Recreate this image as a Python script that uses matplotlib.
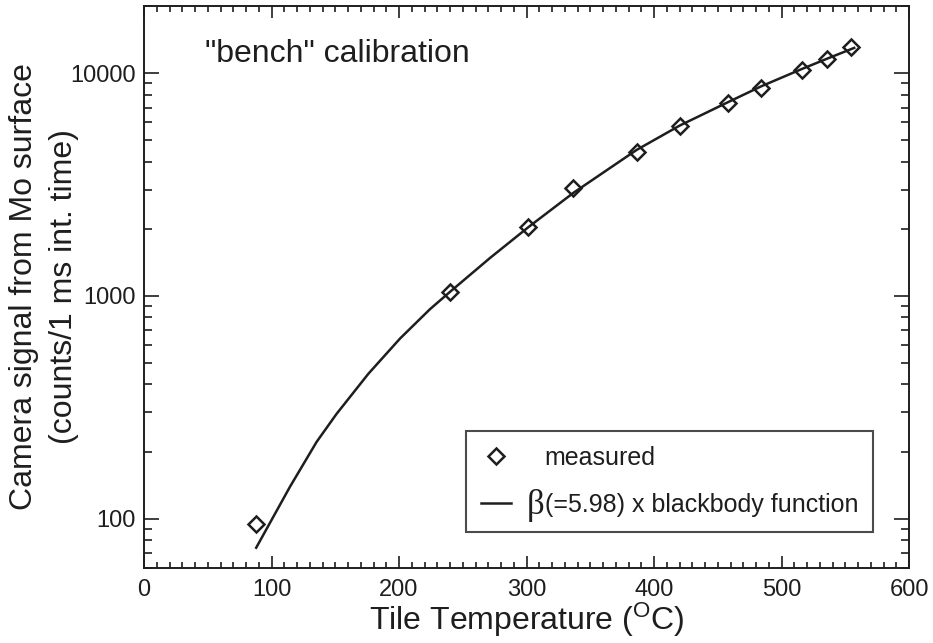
import matplotlib
matplotlib.use("Agg")
import matplotlib.pyplot as plt
from matplotlib.ticker import LogLocator, FuncFormatter, NullFormatter, MultipleLocator
from matplotlib.lines import Line2D

plt.rcParams['font.family'] = ['Liberation Sans', 'DejaVu Sans']
plt.rcParams['mathtext.fontset'] = 'custom'
plt.rcParams['mathtext.rm'] = 'Liberation Sans'
plt.rcParams['mathtext.it'] = 'Liberation Sans:italic'
plt.rcParams['mathtext.bf'] = 'Liberation Sans:bold'

INK = '#1e1e1e'

# measured points (tile temperature in C, camera counts)
temp_meas = [87.8, 240.0, 301.4, 336.7, 386.4, 420.4, 458.3, 483.9, 515.8, 535.9, 554.5]
signal_meas = [95, 1042, 2042, 3035, 4435, 5780, 7310, 8595, 10330, 11570, 13060]

# fitted curve (beta x blackbody)
temp_fit = [88, 114.5, 135.4, 151, 176, 200.8, 224.3, 240, 271.4, 301.4, 336.7,
            386.4, 420.4, 458.3, 483.9, 515.8, 535.9, 557]
signal_fit = [74, 139, 221, 295, 447, 643, 871, 1042, 1479, 2032, 2897,
              4519, 5821, 7413, 8710, 10420, 11610, 12970]

ylabel_lines = ['Camera signal from Mo surface', '(counts/1 ms int. time)']
legend_labels = ['measured', '(=5.98) x blackbody function']

fig = plt.figure(figsize=(9.33, 6.43), dpi=100)
ax = fig.add_axes([144/933, (643-568)/643, 765/933, 562/643])

ax.plot(temp_fit, signal_fit, color=INK, lw=1.8, zorder=2)
ax.plot(temp_meas, signal_meas, linestyle='none', marker='D', ms=8.5,
        mfc='none', mec=INK, mew=1.8, zorder=3)

ax.set_yscale('log')
ax.set_xlim(0, 600)
ax.set_ylim(60, 20000)

ax.xaxis.set_major_locator(MultipleLocator(100))
ax.xaxis.set_minor_locator(MultipleLocator(10))
ax.yaxis.set_major_locator(LogLocator(base=10, numticks=10))
ax.yaxis.set_minor_locator(LogLocator(base=10, subs=[2, 3, 4, 5, 6, 7, 8, 9], numticks=20))
ax.yaxis.set_major_formatter(FuncFormatter(lambda v, p: '%d' % round(v)))
ax.yaxis.set_minor_formatter(NullFormatter())

ax.tick_params(which='both', direction='in', top=True, right=True, color=INK,
               labelcolor=INK, labelsize=17, width=1.2)
ax.tick_params(axis='x', which='major', length=8.6, pad=8)
ax.tick_params(axis='x', which='minor', length=4.3)
ax.tick_params(axis='y', which='major', length=11, pad=6)
ax.tick_params(axis='y', which='minor', length=5.8)
for s in ax.spines.values():
    s.set_linewidth(1.4)
    s.set_color(INK)

ax.set_xlabel(r'Tile Temperature ($\mathregular{^{O}}$C)', fontsize=23, color=INK, labelpad=0)

# two-line y label, each line placed separately
ax.text(-0.1569, 0.5, ylabel_lines[0], transform=ax.transAxes, rotation=90,
        fontsize=23, color=INK, ha='center', va='center', rotation_mode='anchor')
ax.text(-0.1046, 0.5, ylabel_lines[1], transform=ax.transAxes, rotation=90,
        fontsize=23, color=INK, ha='center', va='center', rotation_mode='anchor')

ax.text(0.0797, 0.900, '"bench" calibration', transform=ax.transAxes, fontsize=23,
        color=INK, ha='left', va='baseline')

h1 = Line2D([], [], linestyle='none', marker='D', ms=8.5, mfc='none', mec=INK, mew=1.8)
h2 = Line2D([], [], color=INK, lw=1.8)
leg = ax.legend([h1, h2], legend_labels,
                loc='lower right', bbox_to_anchor=(0.953, 0.064), borderaxespad=0,
                fontsize=18, frameon=True, fancybox=False, edgecolor=INK,
                handlelength=1.2, handletextpad=1.35, borderpad=0.6,
                labelspacing=0.92, numpoints=1)
leg.get_frame().set_linewidth(1.5)
for t in leg.get_texts():
    t.set_color(INK)
leg.set_zorder(5)

# large beta placed in the gap just left of the second legend label
ax.annotate('β', xy=(0, 0.5), xycoords=leg.get_texts()[1], ha='right', va='center',
            fontsize=25, family=['Liberation Serif', 'DejaVu Serif'], color=INK,
            zorder=10, annotation_clip=False)

fig.savefig('out.png', dpi=100)
